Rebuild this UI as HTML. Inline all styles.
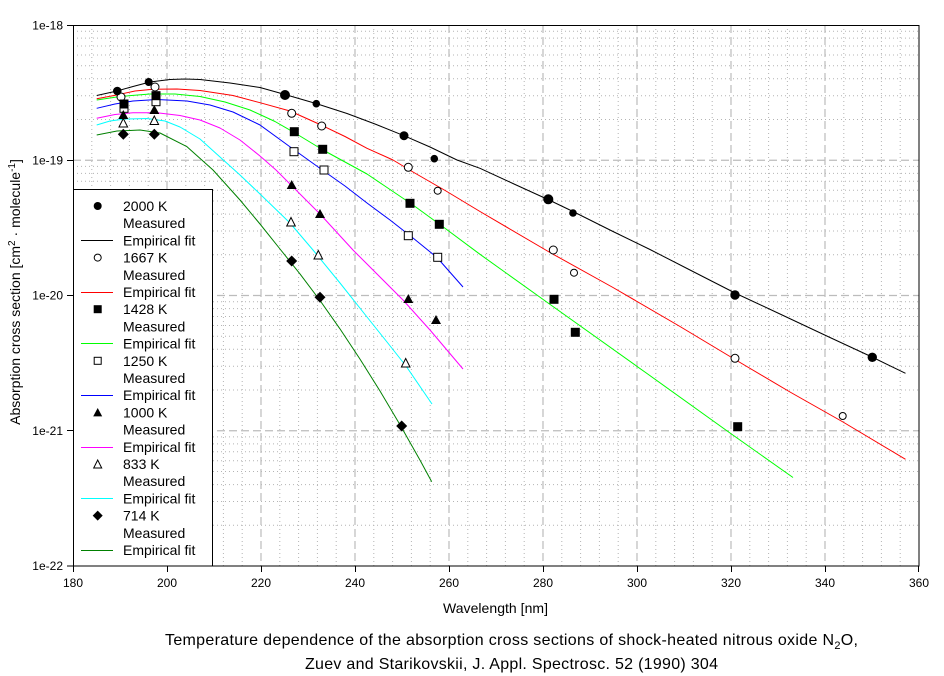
<!DOCTYPE html>
<html><head><meta charset="utf-8"><style>
html,body{margin:0;padding:0;background:#fff;}
svg{display:block;font-family:"Liberation Sans",Arial,sans-serif;}
</style></head><body>
<svg width="944" height="676" viewBox="0 0 944 676" xmlns="http://www.w3.org/2000/svg">
<rect width="944" height="676" fill="#fff"/>
<!-- minor grid -->
<g stroke="#b4b4b4" stroke-width="1" stroke-dasharray="1 3" fill="none">
<path d="M91.8 25V566M110.6 25V566M129.4 25V566M148.2 25V566M185.8 25V566M204.6 25V566M223.4 25V566M242.2 25V566M279.8 25V566M298.6 25V566M317.4 25V566M336.2 25V566M373.8 25V566M392.6 25V566M411.4 25V566M430.2 25V566M467.8 25V566M486.6 25V566M505.4 25V566M524.2 25V566M561.8 25V566M580.6 25V566M599.4 25V566M618.2 25V566M655.8 25V566M674.6 25V566M693.4 25V566M712.2 25V566M749.8 25V566M768.6 25V566M787.4 25V566M806.2 25V566M843.8 25V566M862.6 25V566M881.4 25V566M900.2 25V566"/>
<path d="M73 119.5H919M73 95.7H919M73 78.8H919M73 65.7H919M73 55H919M73 46H919M73 38.1H919M73 31.2H919
M73 254.8H919M73 231H919M73 214.1H919M73 201H919M73 190.3H919M73 181.2H919M73 173.4H919M73 166.4H919
M73 390H919M73 366.2H919M73 349.3H919M73 336.2H919M73 325.5H919M73 316.5H919M73 308.6H919M73 301.7H919
M73 525.3H919M73 501.5H919M73 484.6H919M73 471.5H919M73 460.8H919M73 451.7H919M73 443.9H919M73 436.9H919"/>
</g>
<!-- major grid -->
<g stroke="#bcbcbc" stroke-width="1.2" stroke-dasharray="8 4" fill="none">
<path d="M167 25V566M261 25V566M355 25V566M449 25V566M543 25V566M637 25V566M731 25V566M825 25V566"/>
<path d="M73 160.25H919M73 295.5H919M73 430.75H919"/>
</g>
<!-- curves -->
<g fill="none" stroke-width="1" stroke-linejoin="round">
<polyline stroke="#000000" points="96.7,95.5 117,91 133,86.5 150,82 170,79.5 185,79 200,79.5 230,83 260,87.5 285,94.5 316,103.5 347,113.5 375,124 404,135.7 430,147 457,160 480,168.3 514,184 548,199.5 573,211.5 613,231.5 650,249.5 690,270 735,293 780,314 830,337.5 872,357 905.5,373.3"/>
<polyline stroke="#ff0000" points="96.7,98.7 116.7,95 135,91 153,89.3 177,89 200,90.5 233,95.5 260,102.7 290,111 320,124.5 345,136.5 367,148.3 393,160 413,172 446,191 480,211.5 550,252.5 613,287.5 680,326.5 735,359.5 790,392 843,422 905.5,459.3"/>
<polyline stroke="#00ff00" points="96.7,100 120,96.5 150,94 175,94 200,96.5 225,102 250,110 275,121.5 295,133 323,150 367,174 413,205 446,229 480,254.3 550,304.4 647,373.5 730,433 793,477.5"/>
<polyline stroke="#0000ff" points="96.7,108.3 115,104 133,101 157,99.5 187,101 210,105 233,112 260,125 293,149 323,170.5 345,186 367,203 390,220 413,238 437,257.5 463,287"/>
<polyline stroke="#ff00ff" points="96.7,118.3 115,114.5 133,112.7 157,112.7 180,115.5 200,120 220,128 240,140 260,156 276,170 292,186 320,214 353,250 367,264 403,300 430,330 463,369"/>
<polyline stroke="#00ffff" points="96.7,125 110,121 125,119 147,118.5 165,121 180,127 200,139 220,157 240,175 260,194 290,223 313,250 340,283 367,317 387,342 406,366 432,404"/>
<polyline stroke="#008000" points="96.7,135 117,131 140,130 160,133 187,146.7 213,170 240,200 260,224 280,249 300,273.9 320,300.5 340,328.9 360,359.1 380,391 400,424.7 420,460.1 431.7,481.7"/>
</g>
<!-- 1667 open circles -->
<g fill="#fff" stroke="#000" stroke-width="1">
<circle cx="121" cy="97" r="4"/><circle cx="155" cy="87" r="4"/>
<circle cx="291.7" cy="113.3" r="4"/><circle cx="321.7" cy="126" r="4"/>
<circle cx="408.3" cy="167.3" r="4"/><circle cx="437.7" cy="190.7" r="3.5"/>
<circle cx="553.3" cy="250" r="4"/><circle cx="574" cy="272.7" r="3.5"/>
<circle cx="735" cy="358.3" r="4"/><circle cx="842.7" cy="416" r="3.5"/>
</g>
<!-- 2000 filled circles -->
<g fill="#000">
<circle cx="117.3" cy="91" r="4.3"/><circle cx="148.7" cy="82" r="4"/>
<circle cx="285" cy="95" r="5"/><circle cx="316.3" cy="103.7" r="3.8"/>
<circle cx="404" cy="135.7" r="4.5"/><circle cx="434.3" cy="158.7" r="3.8"/>
<circle cx="548.3" cy="199.3" r="5"/><circle cx="573" cy="213" r="3.8"/>
<circle cx="735" cy="295" r="4.7"/><circle cx="872.3" cy="357.3" r="4.7"/>
</g>
<!-- 1250 open squares -->
<g fill="#fff" stroke="#000" stroke-width="1">
<rect x="120" y="104.3" width="8" height="8"/><rect x="152" y="97.7" width="8" height="8"/>
<rect x="290" y="147.7" width="8" height="8"/><rect x="320" y="166" width="8" height="8"/>
<rect x="404.3" y="231.7" width="8" height="8"/><rect x="433.7" y="253.3" width="8" height="8"/>
</g>
<!-- 1428 filled squares -->
<g fill="#000">
<rect x="119.5" y="99.5" width="9" height="9"/><rect x="151.5" y="91.2" width="9" height="9"/>
<rect x="289.8" y="127.2" width="9" height="9"/><rect x="318.2" y="144.8" width="9" height="9"/>
<rect x="405.5" y="198.8" width="9" height="9"/><rect x="434.8" y="219.8" width="9" height="9"/>
<rect x="549.5" y="294.8" width="9" height="9"/><rect x="570.8" y="327.8" width="9" height="9"/>
<rect x="733.2" y="422.2" width="9" height="9"/>
</g>
<!-- 1000 filled triangles -->
<g fill="#000">
<polygon points="123.3,110 118.3,119 128.3,119"/><polygon points="154.3,105 149.3,114 159.3,114"/>
<polygon points="291.7,180 286.7,189 296.7,189"/><polygon points="320,209 315,218 325,218"/>
<polygon points="408.3,294 403.3,303 413.3,303"/><polygon points="436,315 431,324 441,324"/>
</g>
<!-- 833 open triangles -->
<g fill="#fff" stroke="#000" stroke-width="1">
<polygon points="123.3,118.5 119,127 127.6,127"/><polygon points="154.3,116 150,124.5 158.6,124.5"/>
<polygon points="291,217.5 286.7,226 295.3,226"/><polygon points="318.3,250.5 314,259 322.6,259"/>
<polygon points="405.7,358.5 401.4,367 410,367"/>
</g>
<!-- 714 diamonds -->
<g fill="#000">
<polygon points="123.3,128.8 128.8,134.3 123.3,139.8 117.8,134.3"/>
<polygon points="154.3,128.8 159.8,134.3 154.3,139.8 148.8,134.3"/>
<polygon points="291.7,255.5 297.2,261 291.7,266.5 286.2,261"/>
<polygon points="320,291.8 325.5,297.3 320,302.8 314.5,297.3"/>
<polygon points="401.7,420.5 407.2,426 401.7,431.5 396.2,426"/>
</g>
<!-- legend -->
<rect x="73.5" y="189.5" width="139" height="376.5" fill="#fff" stroke="#000" stroke-width="1"/>
<g font-size="14" fill="#000">
<text x="123" y="211">2000 K</text>
<text x="123" y="228.2">Measured</text>
<text x="123" y="245.4">Empirical fit</text>
<text x="123" y="262.6">1667 K</text>
<text x="123" y="279.8">Measured</text>
<text x="123" y="297">Empirical fit</text>
<text x="123" y="314.2">1428 K</text>
<text x="123" y="331.4">Measured</text>
<text x="123" y="348.6">Empirical fit</text>
<text x="123" y="365.8">1250 K</text>
<text x="123" y="383">Measured</text>
<text x="123" y="400.2">Empirical fit</text>
<text x="123" y="417.4">1000 K</text>
<text x="123" y="434.6">Measured</text>
<text x="123" y="451.8">Empirical fit</text>
<text x="123" y="469">833 K</text>
<text x="123" y="486.2">Measured</text>
<text x="123" y="503.4">Empirical fit</text>
<text x="123" y="520.6">714 K</text>
<text x="123" y="537.8">Measured</text>
<text x="123" y="555">Empirical fit</text>
</g>
<g stroke-width="1">
<line x1="81" y1="240.5" x2="113" y2="240.5" stroke="#000000"/>
<line x1="81" y1="292.5" x2="113" y2="292.5" stroke="#ff0000"/>
<line x1="81" y1="343.5" x2="113" y2="343.5" stroke="#00ff00"/>
<line x1="81" y1="395.5" x2="113" y2="395.5" stroke="#0000ff"/>
<line x1="81" y1="447.5" x2="113" y2="447.5" stroke="#ff00ff"/>
<line x1="81" y1="498.5" x2="113" y2="498.5" stroke="#00ffff"/>
<line x1="81" y1="550.5" x2="113" y2="550.5" stroke="#008000"/>
</g>
<circle cx="97.7" cy="206" r="4" fill="#000"/>
<circle cx="97.7" cy="257.6" r="3.5" fill="#fff" stroke="#000"/>
<rect x="93.7" y="305.2" width="8" height="8" fill="#000"/>
<rect x="94.2" y="357.3" width="7" height="7" fill="#fff" stroke="#000"/>
<polygon points="97.7,408 93.2,416.4 102.2,416.4" fill="#000"/>
<polygon points="97.7,460 93.7,468 101.7,468" fill="#fff" stroke="#000"/>
<polygon points="97.7,510.6 102.7,515.6 97.7,520.6 92.7,515.6" fill="#000"/>
<!-- axes frame -->
<g stroke="#000" stroke-width="1" fill="none">
<rect x="73.5" y="25.5" width="845.5" height="540.5"/>
<path d="M67 25.5H73M67 160.5H73M67 295.5H73M67 430.5H73M67 566H73"/>
<path d="M73.5 566V572M167.5 566V572M261.5 566V572M355.5 566V572M449.5 566V572M543.5 566V572M637.5 566V572M731.5 566V572M825.5 566V572M918.5 566V572"/>
</g>
<!-- tick labels -->
<g font-size="12" fill="#000" text-anchor="end">
<text x="63" y="29.5">1e-18</text>
<text x="63" y="164.5">1e-19</text>
<text x="63" y="299.5">1e-20</text>
<text x="63" y="435">1e-21</text>
<text x="63" y="570">1e-22</text>
</g>
<g font-size="12" fill="#000" text-anchor="middle">
<text x="73" y="587">180</text>
<text x="167" y="587">200</text>
<text x="261" y="587">220</text>
<text x="355" y="587">240</text>
<text x="449" y="587">260</text>
<text x="543" y="587">280</text>
<text x="637" y="587">300</text>
<text x="731" y="587">320</text>
<text x="825" y="587">340</text>
<text x="919" y="587">360</text>
</g>
<!-- axis titles -->
<text x="443" y="613" font-size="14" textLength="105" fill="#000">Wavelength [nm]</text>
<text transform="translate(20,292) rotate(-90)" text-anchor="middle" font-size="14" fill="#000">Absorption cross section [cm<tspan dy="-5" font-size="10">2</tspan><tspan dy="5"> · molecule</tspan><tspan dy="-5" font-size="10">-1</tspan><tspan dy="5">]</tspan></text>
<!-- caption -->
<text x="165" y="645" font-size="16" fill="#000" textLength="693" lengthAdjust="spacing">Temperature dependence of the absorption cross sections of shock-heated nitrous oxide N<tspan dy="4" font-size="11">2</tspan><tspan dy="-4">O,</tspan></text>
<text x="305" y="669" font-size="16" fill="#000" textLength="413" lengthAdjust="spacing">Zuev and Starikovskii, J. Appl. Spectrosc. 52 (1990) 304</text>
</svg>
</body></html>
